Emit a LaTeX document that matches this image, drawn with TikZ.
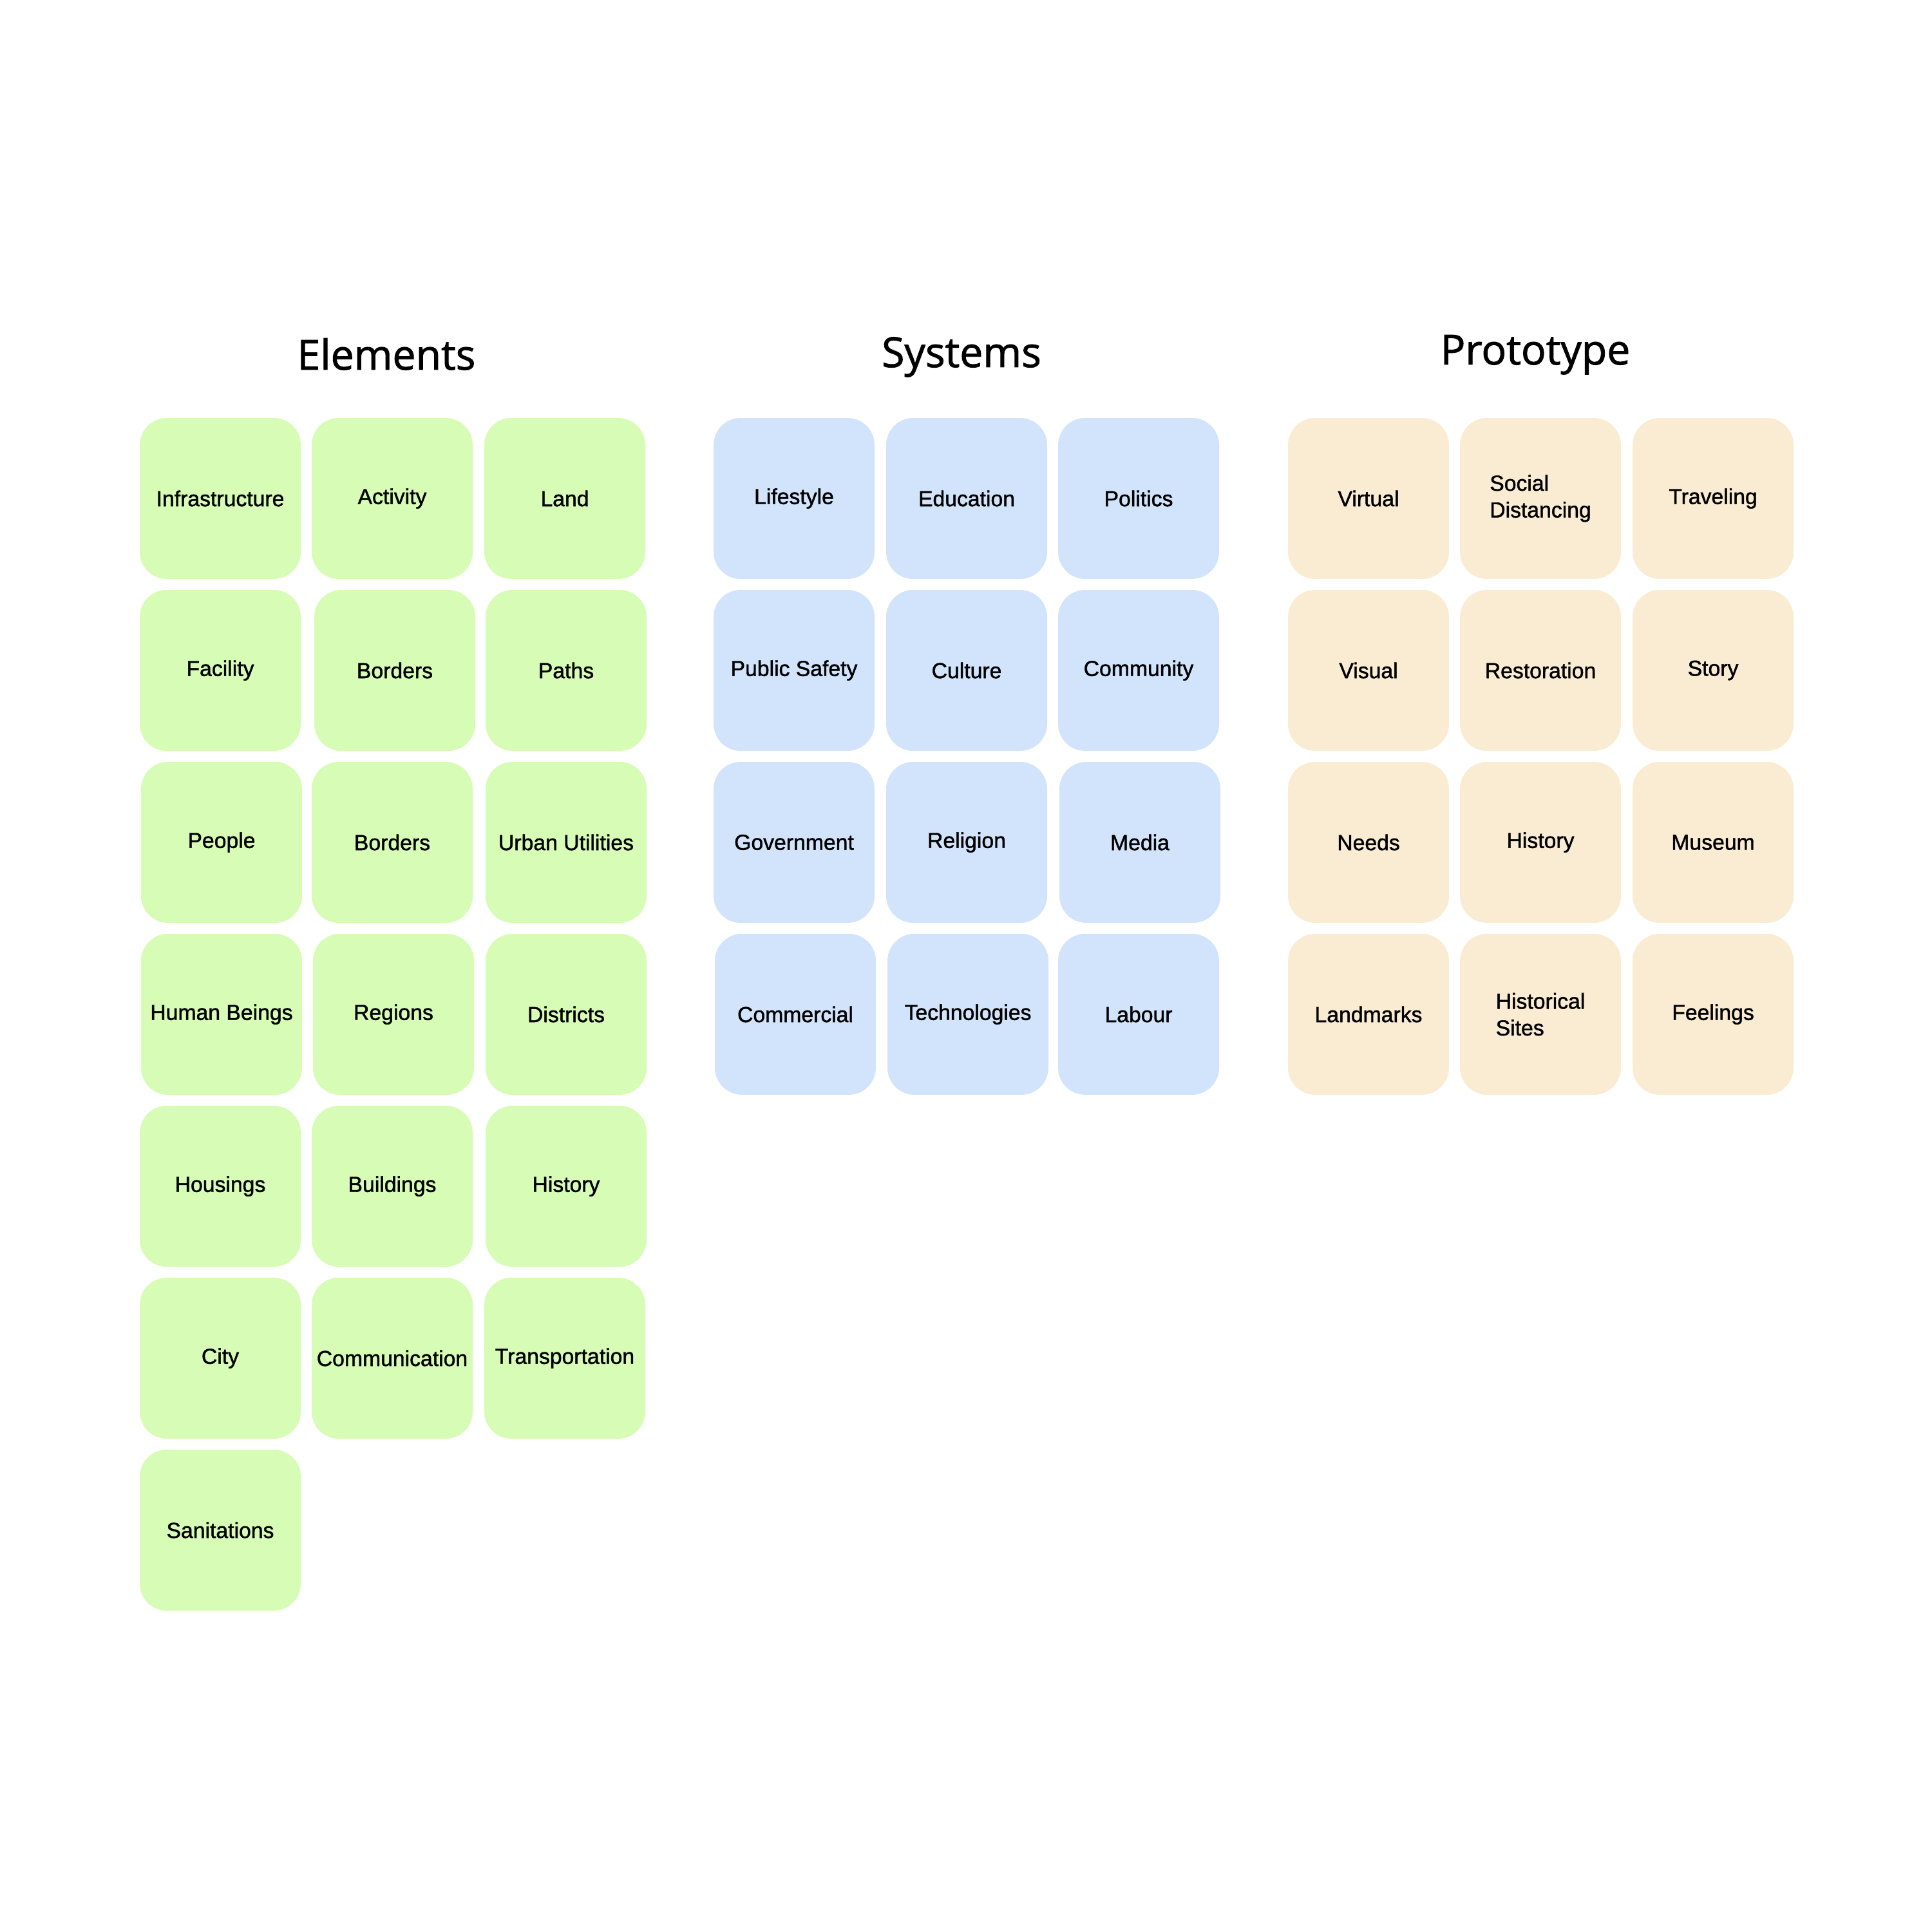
\documentclass[tikz,border=0pt]{standalone}
\usepackage{fontspec}
\setmainfont{Liberation Sans}
\newfontfamily\titlefont[FakeBold=1.4]{Open Sans}
\newfontfamily\cardfont[FakeBold=1.3]{Liberation Sans}
\usepackage{tikz}
\usetikzlibrary{positioning}

\definecolor{elemgreen}{HTML}{D7FCB5}
\definecolor{sysblue}{HTML}{D2E4FB}
\definecolor{protosand}{HTML}{FAECD2}

\tikzset{
  card/.style={minimum width=2.5cm, minimum height=2.5cm, rounded corners=0.42cm,
    inner sep=0pt, font=\cardfont\fontsize{9.6pt}{11.8pt}\selectfont, align=left},
  elemcard/.style={card, fill=elemgreen},
  syscard/.style={card, fill=sysblue},
  protocard/.style={card, fill=protosand},
  heading/.style={anchor=base, font=\titlefont\fontsize{18.3pt}{22pt}\selectfont}
}

\begin{document}
\begin{tikzpicture}

\useasboundingbox (0,0) rectangle (30,-30);

% headings
\node [heading] (elements) at (6.00,-5.74) {Elements};
\node [heading] (systems) at (14.93,-5.70) {Systems};
\node [heading] (prototype) at (23.84,-5.66) {Prototype};

% elements
\node [elemcard] (infrastructure) at (3.42,-7.74) {Infrastructure};
\node [elemcard] (activity) at (6.09,-7.74) {Activity};
\node [elemcard] (land) at (8.77,-7.74) {Land};
\node [elemcard] (facility) at (3.42,-10.41) {Facility};
\node [elemcard] (borders) at (6.13,-10.41) {Borders};
\node [elemcard] (paths) at (8.79,-10.41) {Paths};
\node [elemcard] (people) at (3.44,-13.08) {People};
\node [elemcard] (bordersb) at (6.09,-13.08) {Borders};
\node [elemcard] (utilities) at (8.79,-13.08) {Urban Utilities};
\node [elemcard] (humans) at (3.44,-15.75) {Human Beings};
\node [elemcard] (regions) at (6.11,-15.75) {Regions};
\node [elemcard] (districts) at (8.79,-15.75) {Districts};
\node [elemcard] (housings) at (3.42,-18.42) {Housings};
\node [elemcard] (buildings) at (6.09,-18.42) {Buildings};
\node [elemcard] (history) at (8.79,-18.42) {History};
\node [elemcard] (city) at (3.42,-21.09) {City};
\node [elemcard] (communication) at (6.09,-21.09) {Communication};
\node [elemcard] (transportation) at (8.77,-21.09) {Transportation};
\node [elemcard] (sanitations) at (3.42,-23.76) {Sanitations};

% systems
\node [syscard] (lifestyle) at (12.33,-7.74) {Lifestyle};
\node [syscard] (education) at (15.01,-7.74) {Education};
\node [syscard] (politics) at (17.68,-7.74) {Politics};
\node [syscard] (safety) at (12.33,-10.41) {Public Safety};
\node [syscard] (culture) at (15.01,-10.41) {Culture};
\node [syscard] (community) at (17.68,-10.41) {Community};
\node [syscard] (government) at (12.33,-13.08) {Government};
\node [syscard] (religion) at (15.01,-13.08) {Religion};
\node [syscard] (media) at (17.70,-13.08) {Media};
\node [syscard] (commercial) at (12.35,-15.75) {Commercial};
\node [syscard] (technologies) at (15.03,-15.75) {Technologies};
\node [syscard] (labour) at (17.68,-15.75) {Labour};

% prototype
\node [protocard] (virtual) at (21.25,-7.74) {Virtual};
\node [protocard] (distancing) at (23.92,-7.74) {Social\\Distancing};
\node [protocard] (traveling) at (26.60,-7.74) {Traveling};
\node [protocard] (visual) at (21.25,-10.41) {Visual};
\node [protocard] (restoration) at (23.92,-10.41) {Restoration};
\node [protocard] (story) at (26.60,-10.41) {Story};
\node [protocard] (needs) at (21.25,-13.08) {Needs};
\node [protocard] (historyb) at (23.92,-13.08) {History};
\node [protocard] (museum) at (26.60,-13.08) {Museum};
\node [protocard] (landmarks) at (21.25,-15.75) {Landmarks};
\node [protocard] (sites) at (23.92,-15.75) {Historical\\Sites};
\node [protocard] (feelings) at (26.60,-15.75) {Feelings};

\end{tikzpicture}
\end{document}
